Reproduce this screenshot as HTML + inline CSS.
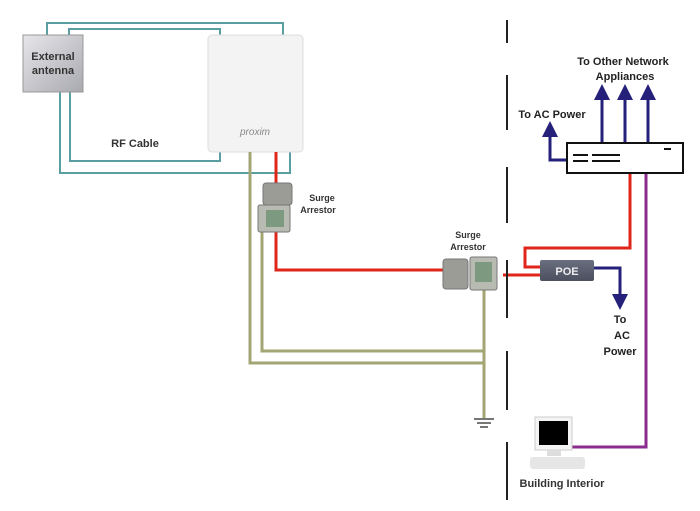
<!DOCTYPE html>
<html><head><meta charset="utf-8"><style>
body{margin:0;background:#fff;}
svg{display:block;font-family:"Liberation Sans",sans-serif;font-weight:bold;}
</style></head><body>
<svg width="700" height="511" viewBox="0 0 700 511">
<defs>
<linearGradient id="ant" x1="0" y1="0" x2="1" y2="1"><stop offset="0" stop-color="#e6e6ea"/><stop offset="1" stop-color="#a9a9b0"/></linearGradient>
<linearGradient id="poe" x1="0" y1="0" x2="0" y2="1"><stop offset="0" stop-color="#6a6f80"/><stop offset="1" stop-color="#4b4f5e"/></linearGradient>
</defs>
<!-- teal RF cables -->
<g fill="none" stroke="#5a9ea2" stroke-width="2">
<polyline points="47,35 47,23 283,23 283,35"/>
<polyline points="69,35 69,29 220,29 220,35"/>
<polyline points="60,92 60,173 290,173 290,152"/>
<polyline points="70,92 70,161 220,161 220,152"/>
</g>
<!-- antenna -->
<rect x="23" y="35" width="60" height="57" fill="url(#ant)" stroke="#999" stroke-width="1"/>
<text x="53" y="60" font-size="11" fill="#333" text-anchor="middle">External</text>
<text x="53" y="74" font-size="11" fill="#333" text-anchor="middle">antenna</text>
<!-- proxim -->
<rect x="208" y="35" width="95" height="117" rx="4" fill="#f3f3f3" stroke="#ddd"/>
<text x="255" y="135" font-size="10" font-style="italic" font-weight="normal" fill="#888" text-anchor="middle">proxim</text>
<text x="135" y="147" font-size="11" fill="#333" text-anchor="middle">RF Cable</text>
<!-- olive ground -->
<g fill="none" stroke="#a3a574" stroke-width="3">
<polyline points="250,152 250,363 484,363"/>
<polyline points="262,222 262,351 484,351"/>
<line x1="484" y1="290" x2="484" y2="418"/>
</g>
<g stroke="#777" stroke-width="2"><line x1="474" y1="419" x2="494" y2="419"/><line x1="477" y1="423" x2="491" y2="423"/><line x1="480" y1="427" x2="488" y2="427"/></g>
<!-- red -->
<g fill="none" stroke="#e0261a" stroke-width="3">
<polyline points="276,152 276,270 445,270"/>
<line x1="503" y1="275" x2="540" y2="275"/>
<polyline points="540,267 525,267 525,248 630,248 630,173"/>
</g>
<!-- arrestor 1 -->
<rect x="263" y="183" width="29" height="22" rx="3" fill="#9a9c95" stroke="#777"/>
<rect x="258" y="205" width="32" height="27" rx="2" fill="#b8bbb2" stroke="#777"/>
<rect x="266" y="210" width="18" height="17" fill="#7d9a80"/>
<text x="322" y="201" font-size="9" fill="#333" text-anchor="middle">Surge</text>
<text x="318" y="213" font-size="9" fill="#333" text-anchor="middle">Arrestor</text>
<!-- arrestor 2 -->
<rect x="443" y="259" width="25" height="30" rx="3" fill="#9a9c95" stroke="#777"/>
<rect x="470" y="257" width="27" height="33" rx="2" fill="#b8bbb2" stroke="#777"/>
<rect x="475" y="262" width="17" height="20" fill="#7d9a80"/>
<text x="468" y="238" font-size="9" fill="#333" text-anchor="middle">Surge</text>
<text x="468" y="250" font-size="9" fill="#333" text-anchor="middle">Arrestor</text>
<!-- dashed wall -->
<g stroke="#222" stroke-width="2">
<line x1="507" y1="20" x2="507" y2="43"/><line x1="507" y1="75" x2="507" y2="130"/>
<line x1="507" y1="167" x2="507" y2="223"/><line x1="507" y1="260" x2="507" y2="318"/>
<line x1="507" y1="351" x2="507" y2="410"/><line x1="507" y1="442" x2="507" y2="500"/>
</g>
<!-- purple -->
<polyline points="646,173 646,447 572,447" fill="none" stroke="#8b2b8e" stroke-width="3"/>
<!-- blue -->
<g fill="none" stroke="#25207a" stroke-width="3">
<polyline points="594,268 620,268 620,298"/>
<polyline points="567,160 550,160 550,135"/>
<line x1="602" y1="143" x2="602" y2="98"/><line x1="625" y1="143" x2="625" y2="98"/><line x1="648" y1="143" x2="648" y2="98"/>
</g>
<g fill="#25207a">
<polygon points="612,294 628,294 620,310"/>
<polygon points="542,137 558,137 550,121"/>
<polygon points="594,100 610,100 602,84"/><polygon points="617,100 633,100 625,84"/><polygon points="640,100 656,100 648,84"/>
</g>
<!-- switch -->
<rect x="567" y="143" width="116" height="30" fill="#fff" stroke="#111" stroke-width="2"/>
<g stroke="#111" stroke-width="2"><line x1="573" y1="155" x2="588" y2="155"/><line x1="573" y1="161" x2="588" y2="161"/><line x1="592" y1="155" x2="620" y2="155"/><line x1="592" y1="161" x2="620" y2="161"/><line x1="664" y1="149" x2="671" y2="149"/></g>
<!-- POE -->
<rect x="540" y="260" width="54" height="21" rx="2" fill="url(#poe)"/>
<text x="567" y="275" font-size="11" fill="#eee" text-anchor="middle">POE</text>
<!-- labels -->
<text x="623" y="65" font-size="11" fill="#222" text-anchor="middle">To Other Network</text>
<text x="625" y="80" font-size="11" fill="#222" text-anchor="middle">Appliances</text>
<text x="552" y="118" font-size="11" fill="#222" text-anchor="middle">To AC Power</text>
<text x="620" y="323" font-size="11" fill="#222" text-anchor="middle">To</text>
<text x="622" y="339" font-size="11" fill="#222" text-anchor="middle">AC</text>
<text x="620" y="355" font-size="11" fill="#222" text-anchor="middle">Power</text>
<!-- computer -->
<rect x="535" y="417" width="37" height="33" fill="#f4f4f4" stroke="#ccc"/>
<rect x="539" y="421" width="29" height="24" fill="#000"/>
<rect x="547" y="450" width="14" height="6" fill="#ddd"/>
<rect x="530" y="457" width="55" height="12" rx="3" fill="#e6e6e6"/>
<text x="562" y="487" font-size="11" fill="#333" text-anchor="middle">Building Interior</text>
</svg>
</body></html>
